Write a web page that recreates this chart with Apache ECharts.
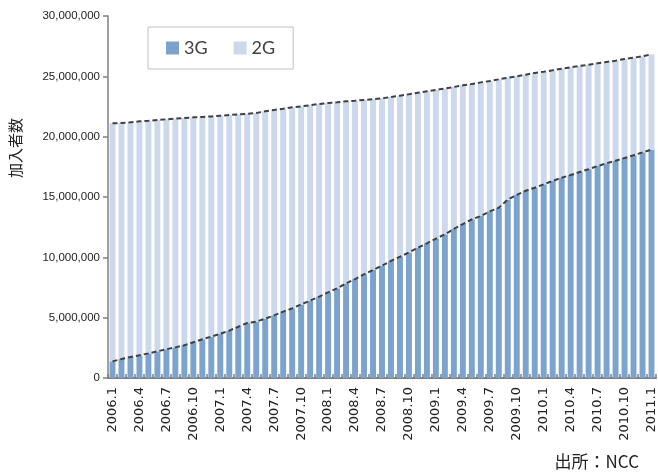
<!DOCTYPE html>
<html>
<head>
<meta charset="utf-8">
<script src="https://cdn.jsdelivr.net/npm/echarts@6/dist/echarts.min.js"></script>
<style>html,body{margin:0;padding:0;background:#fff}#c{width:658px;height:472px}</style>
</head>
<body>
<div id="c"></div>
<script>
var categories = ["2006.1","2006.2","2006.3","2006.4","2006.5","2006.6","2006.7","2006.8","2006.9","2006.10","2006.11","2006.12",
"2007.1","2007.2","2007.3","2007.4","2007.5","2007.6","2007.7","2007.8","2007.9","2007.10","2007.11","2007.12",
"2008.1","2008.2","2008.3","2008.4","2008.5","2008.6","2008.7","2008.8","2008.9","2008.10","2008.11","2008.12",
"2009.1","2009.2","2009.3","2009.4","2009.5","2009.6","2009.7","2009.8","2009.9","2009.10","2009.11","2009.12",
"2010.1","2010.2","2010.3","2010.4","2010.5","2010.6","2010.7","2010.8","2010.9","2010.10","2010.11","2010.12",
"2011.1"];
// 3G subscribers (millions)
var g3M = [1.38,1.57,1.74,1.88,2.04,2.21,2.38,2.54,2.71,2.96,3.21,3.43,3.67,3.92,4.25,4.56,4.67,4.92,5.19,5.50,5.77,6.10,6.41,6.74,7.10,7.43,7.84,8.20,8.59,8.95,9.31,9.70,10.05,10.41,10.80,11.16,11.55,11.91,12.35,12.76,13.15,13.43,13.81,14.11,14.78,15.17,15.52,15.77,16.05,16.33,16.60,16.82,17.07,17.30,17.57,17.79,18.01,18.23,18.46,18.70,18.92];
// total subscribers (millions)
var totalM = [21.11,21.13,21.19,21.27,21.32,21.38,21.44,21.49,21.55,21.60,21.63,21.68,21.74,21.79,21.85,21.90,21.96,22.10,22.21,22.32,22.43,22.51,22.60,22.71,22.79,22.85,22.93,22.98,23.04,23.10,23.18,23.29,23.40,23.51,23.64,23.76,23.87,23.98,24.12,24.26,24.36,24.50,24.61,24.75,24.89,25.00,25.14,25.28,25.38,25.50,25.63,25.75,25.86,25.96,26.08,26.19,26.30,26.44,26.54,26.66,26.82];
var yTicks = [0,5000000,10000000,15000000,20000000,25000000,30000000];

var g3 = g3M.map(function(v){return Math.round(v*1e6);});
var total = totalM.map(function(v){return Math.round(v*1e6);});
var g2 = total.map(function(v,i){return v - g3[i];});

var chart = echarts.init(document.getElementById('c'));
var dash = {color:'#404040', width:2, type:[5,3]};
chart.setOption({
  animation:false,
  grid:{left:108, right:2, top:16, bottom:94},
  legend:{
    data:['3G','2G'], left:148, top:27, orient:'horizontal',
    padding:[12,18], itemGap:26, itemWidth:13, itemHeight:13,
    borderColor:'#c0c0c0', borderWidth:1, icon:'rect',
    textStyle:{fontSize:18, color:'#404040', fontFamily:'Lato'}
  },
  xAxis:{
    type:'category', data:categories, boundaryGap:true,
    axisLine:{lineStyle:{color:'#808080', width:2}},
    axisTick:{show:true, inside:true, length:4, interval:0, lineStyle:{color:'#808080', width:1.5}},
    axisLabel:{interval:2, rotate:90, margin:9, fontSize:13, color:'#222', fontFamily:'DejaVu Sans'}
  },
  yAxis:{
    type:'value', min:0, max:30000000, interval:5000000,
    splitLine:{show:false},
    axisLine:{show:true, lineStyle:{color:'#808080', width:1.5}},
    axisTick:{show:true, length:5, lineStyle:{color:'#808080', width:1.5}},
    axisLabel:{margin:8, fontSize:11.5, color:'#222', fontFamily:'Liberation Sans',
      formatter:function(v){return v.toString().replace(/\B(?=(\d{3})+(?!\d))/g, ',');}}
  },
  series:[
    {name:'3G', type:'bar', stack:'a', data:g3, barCategoryGap:'34%', itemStyle:{color:'#7BA3CE'}},
    {name:'2G', type:'bar', stack:'a', data:g2, itemStyle:{color:'#CCD9EC'}},
    {name:'3Gline', type:'line', data:g3, symbol:'none', lineStyle:dash, z:5, silent:true},
    {name:'totalline', type:'line', data:total, symbol:'none', lineStyle:dash, z:5, silent:true}
  ],
  graphic:[
    {type:'text', x:15, y:148, rotation:Math.PI/2,
      style:{text:'加入者数', fontSize:15, fill:'#222', fontFamily:'Noto Sans CJK JP', align:'center', verticalAlign:'middle'}},
    {type:'text', x:639, y:462,
      style:{text:'出所：NCC', fontSize:17, fill:'#222', fontFamily:'Noto Sans CJK JP', align:'right', verticalAlign:'middle'}}
  ]
});
</script>
</body>
</html>
